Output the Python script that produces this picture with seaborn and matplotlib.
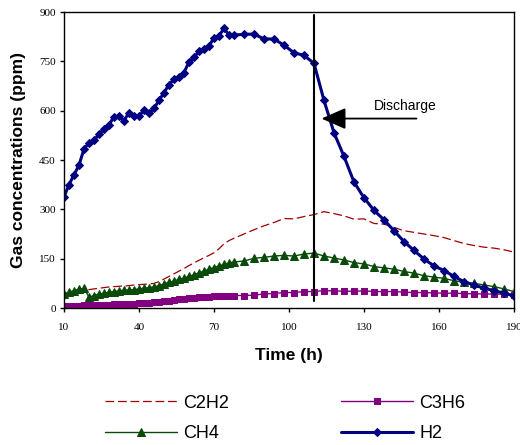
import numpy as np
import pandas as pd
import seaborn as sns
import matplotlib
matplotlib.use("Agg")
import matplotlib.pyplot as plt

# zaman ekseni (saat)
time_h = [10, 12, 14, 16, 18, 20, 22, 24, 26, 28, 30, 32, 34, 36, 38, 40, 42, 44, 46, 48,
          50, 52, 54, 56, 58, 60, 62, 64, 66, 68, 70, 72, 74, 76, 78,
          82, 86, 90, 94, 98, 102, 106, 110, 114, 118, 122, 126, 130, 134, 138, 142,
          146, 150, 154, 158, 162, 166, 170, 174, 178, 182, 186, 190]

h2 = [338, 375, 405, 434, 484, 502, 510, 528, 545, 557, 582, 583, 570, 594, 583, 583, 602, 592, 607, 631,
      655, 679, 696, 701, 716, 748, 762, 780, 787, 797, 821, 828, 850, 830, 830,
      832, 833, 818, 818, 799, 776, 768, 744, 631, 533, 461, 383, 335, 297, 268, 235,
      202, 175, 149, 128, 114, 96, 80, 70, 60, 53, 45, 37]

ch4 = [43, 48, 53, 57, 60, 33, 38, 42, 45, 48, 50, 52, 54, 55, 56, 58, 60, 62, 64, 68,
       73, 78, 82, 87, 91, 96, 101, 107, 112, 118, 123, 128, 133, 137, 140,
       143, 151, 154, 158, 160, 158, 164, 167, 158, 152, 146, 138, 134, 126, 122, 118,
       111, 106, 98, 94, 90, 83, 78, 75, 70, 65, 58, 50]

c3h6 = [5, 6, 7, 7, 8, 8, 9, 9, 10, 10, 11, 11, 12, 12, 13, 14, 15, 16, 18, 19,
        21, 22, 24, 26, 27, 29, 30, 32, 33, 34, 35, 36, 37, 37, 38,
        38, 39, 43, 44, 47, 47, 50, 50, 53, 52, 51, 51, 52, 50, 50, 50,
        48, 47, 47, 46, 45, 45, 44, 43, 43, 42, 42, 41]

c2h2 = [40, 42, 45, 47, 50, 56, 58, 60, 62, 64, 65, 66, 67, 68, 70, 71, 72, 73, 75, 80,
        88, 96, 104, 112, 120, 129, 137, 145, 153, 160, 168, 180, 195, 205, 212,
        225, 238, 250, 260, 272, 271, 278, 284, 293, 287, 280, 270, 271, 257, 255, 245,
        235, 230, 225, 220, 214, 205, 196, 190, 185, 182, 177, 170]

x_ticks = [10, 40, 70, 100, 130, 160, 190]
y_ticks = [0, 150, 300, 450, 600, 750, 900]
discharge_time = 110

df = pd.DataFrame({"Time": time_h, "H2": h2, "CH4": ch4, "C3H6": c3h6, "C2H2": c2h2})

sns.set_style("ticks")
plt.rcParams["font.family"] = ["Liberation Sans", "DejaVu Sans"]
plt.rcParams["text.color"] = "black"
plt.rcParams["axes.labelcolor"] = "black"
plt.rcParams["xtick.color"] = "black"
plt.rcParams["ytick.color"] = "black"

fig, ax = plt.subplots(figsize=(5.2, 4.45), dpi=100)
fig.subplots_adjust(left=64 / 520, right=514 / 520, top=1 - 12 / 445, bottom=1 - 308 / 445)

sns.lineplot(data=df, x="Time", y="C2H2", ax=ax, color="#a00000", linewidth=0.9,
             linestyle=(0, (7, 3)), label="C2H2")
sns.lineplot(data=df, x="Time", y="CH4", ax=ax, color="#0a4a0a", linewidth=1.0,
             marker="^", markersize=5.5, markeredgecolor="#0a4a0a", label="CH4")
sns.lineplot(data=df, x="Time", y="C3H6", ax=ax, color="#800080", linewidth=1.0,
             marker="s", markersize=5, markeredgecolor="#800080", label="C3H6")
sns.lineplot(data=df, x="Time", y="H2", ax=ax, color="#000080", linewidth=2.2,
             marker="D", markersize=4, markeredgecolor="#000080", label="H2")

# desarj cizgisi ve ok
ax.plot([discharge_time, discharge_time], [20, 890], color="black", linewidth=1.5)
ax.annotate("", xy=(113, 576), xytext=(151, 576),
            arrowprops=dict(arrowstyle="-|>,head_length=0.5,head_width=0.22",
                            mutation_scale=30, color="black", lw=1.3,
                            shrinkA=0, shrinkB=0))
ax.text(146.5, 613, "Discharge", fontsize=10, ha="center", va="center", color="black")

ax.set_xlim(10, 190)
ax.set_ylim(0, 900)
ax.set_xticks(x_ticks)
ax.set_yticks(y_ticks)
for lab in ax.get_xticklabels() + ax.get_yticklabels():
    lab.set_fontfamily("Liberation Serif")
    lab.set_fontsize(8)
    lab.set_color("black")
ax.tick_params(axis="x", length=3, width=1, pad=8)
ax.tick_params(axis="y", length=3, width=1, pad=3)
for sp in ax.spines.values():
    sp.set_visible(True)
    sp.set_color("black")
    sp.set_linewidth(1)

ax.set_xlabel("Time (h)", fontsize=12.5, fontweight="bold", color="black")
ax.set_ylabel("Gas concentrations (ppm)", fontsize=12.5, fontweight="bold", color="black")
ax.xaxis.label.set_va("center")
ax.yaxis.label.set_va("center")
ax.xaxis.set_label_coords(0.5, -0.159)
ax.yaxis.set_label_coords(-0.102, 0.5)

handles, labels = ax.get_legend_handles_labels()
ax.get_legend().remove()
order = [labels.index(k) for k in ["C2H2", "CH4", "C3H6", "H2"]]
leg = fig.legend([handles[i] for i in order], [labels[i] for i in order],
                 loc="center", bbox_to_anchor=(0.548, 0.06), ncol=2, frameon=False,
                 fontsize=13, handlelength=4.0, handletextpad=0.35, columnspacing=6.2,
                 labelspacing=0.75)
for t in leg.get_texts():
    t.set_color("black")

fig.savefig("out.png", dpi=100)
